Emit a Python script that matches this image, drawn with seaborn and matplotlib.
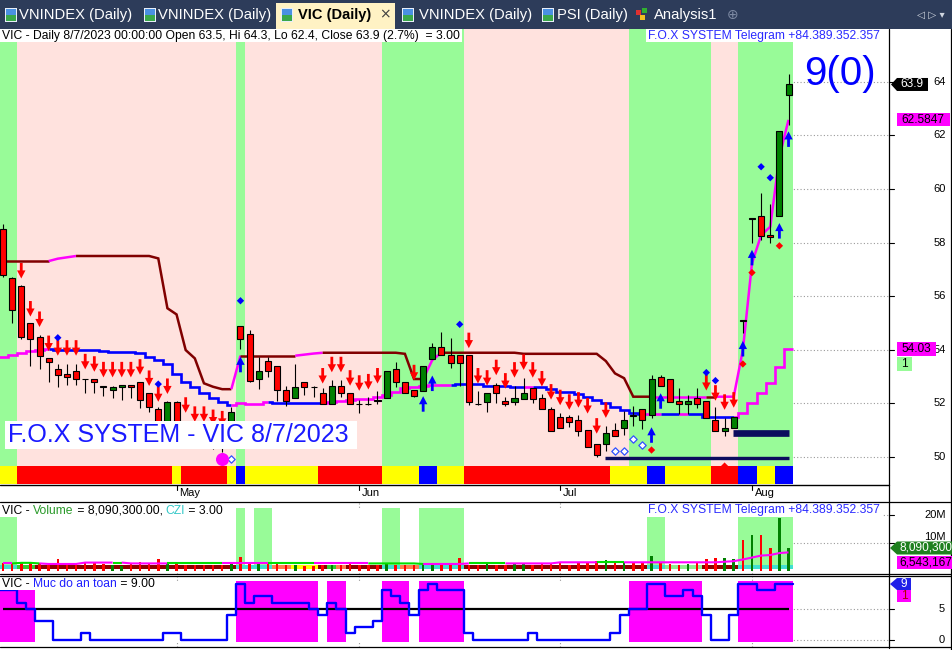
import numpy as np
import matplotlib
matplotlib.use("Agg")
import matplotlib.pyplot as plt
import seaborn as sns
from matplotlib.path import Path
from matplotlib.patches import Rectangle, Polygon
from matplotlib.lines import Line2D

# ---------------- data ----------------
opens = [58.51, 56.67, 56.38, 54.99, 54.47, 53.68, 53.27, 53.10, 53.21, 52.92,
         52.90, 52.63, 52.49, 52.60, 52.69, 52.79, 52.38, 51.79, 51.20, 52.06,
         51.20, 50.90, 50.80, 50.60, 50.50, 50.60, 54.89, 54.58, 52.90, 53.58,
         53.40, 52.49, 52.19, 52.79, 52.62, 52.38, 51.97, 52.66, 52.38, 51.98,
         51.98, 52.11, 52.19, 53.27, 52.79, 52.50, 52.47, 53.67, 54.09, 53.79,
         53.79, 53.79, 51.98, 52.06, 52.68, 52.09, 52.06, 52.16, 52.59, 52.19,
         51.78, 51.48, 51.48, 51.38, 51.00, 50.49, 50.47, 51.00, 51.07, 51.55,
         51.78, 51.57, 52.97, 52.90, 52.09, 51.97, 52.19, 52.09, 51.38, 50.98,
         51.07, 55.10, 58.88, 58.99, 58.28, 58.99, 63.50]
highs = [58.70, 56.70, 56.40, 55.00, 54.55, 53.69, 53.47, 53.47, 53.47, 52.92,
         52.92, 52.63, 52.66, 52.69, 52.69, 52.80, 52.40, 51.85, 52.10, 52.10,
         51.30, 51.10, 51.00, 50.90, 50.70, 51.88, 54.90, 54.74, 53.74, 53.74,
         53.40, 52.65, 53.47, 52.79, 52.65, 52.57, 52.87, 52.87, 52.38, 52.13,
         52.25, 52.47, 53.21, 53.56, 52.79, 52.50, 53.40, 54.24, 54.65, 54.43,
         53.79, 53.79, 52.46, 52.38, 52.75, 52.23, 52.65, 52.94, 52.59, 52.35,
         51.85, 51.63, 51.57, 51.57, 51.00, 50.49, 51.16, 51.26, 51.73, 51.90,
         51.78, 53.06, 53.06, 52.90, 52.56, 52.31, 52.56, 52.09, 51.85, 51.44,
         51.50, 55.10, 58.90, 59.84, 59.44, 62.18, 64.30]
lows = [56.70, 55.01, 54.40, 53.41, 53.28, 52.81, 52.62, 52.69, 52.69, 52.40,
        52.40, 52.29, 52.21, 52.12, 52.21, 51.82, 51.67, 51.00, 51.10, 51.00,
        50.70, 50.50, 50.40, 50.30, 50.20, 50.50, 54.02, 52.80, 52.53, 52.99,
        52.08, 51.90, 52.19, 52.31, 52.25, 51.97, 51.97, 52.25, 51.97, 51.63,
        51.94, 51.97, 52.19, 52.62, 52.38, 52.25, 52.47, 53.67, 53.79, 53.31,
        52.65, 51.94, 51.94, 51.69, 52.00, 51.90, 51.94, 52.16, 52.00, 51.78,
        50.98, 51.07, 51.11, 50.80, 50.38, 50.01, 50.22, 50.78, 50.82, 51.16,
        51.03, 51.44, 52.66, 52.06, 51.60, 51.60, 51.82, 51.47, 50.98, 50.78,
        51.07, 54.62, 58.00, 58.10, 58.00, 58.99, 62.40]
closes = [56.79, 55.49, 54.47, 54.40, 53.78, 53.56, 53.07, 52.97, 52.90, 52.90,
          52.79, 52.62, 52.60, 52.69, 52.60, 52.13, 51.88, 51.30, 52.06, 51.20,
          50.90, 50.70, 50.60, 50.50, 50.40, 51.67, 54.39, 52.84, 53.21, 53.21,
          52.49, 52.09, 52.60, 52.60, 52.60, 51.97, 52.66, 52.38, 51.97, 51.97,
          51.97, 52.10, 53.21, 52.80, 52.38, 52.29, 53.40, 54.09, 53.79, 53.50,
          53.50, 52.06, 51.97, 52.38, 52.38, 51.97, 52.19, 52.38, 52.16, 51.78,
          50.98, 51.07, 51.29, 50.98, 50.38, 50.07, 50.88, 50.78, 51.38, 51.53,
          51.38, 52.90, 52.66, 52.06, 51.97, 52.09, 51.97, 51.47, 50.98, 51.07,
          51.48, 55.08, 58.90, 58.26, 58.20, 62.18, 63.90]
volumes_m = [2.6, 2.6, 2.8, 2.8, 2.6, 2.0, 4.2, 2.4, 2.4, 2.6,
             2.6, 2.4, 2.0, 1.8, 2.6, 3.2, 2.8, 4.2, 2.9, 2.4,
             2.0, 2.0, 2.0, 2.0, 2.2, 2.6, 4.9, 3.2, 2.8, 2.4,
             2.4, 2.0, 2.0, 1.8, 1.8, 2.2, 2.2, 2.2, 3.2, 2.2,
             2.0, 2.2, 2.9, 2.2, 2.0, 2.0, 2.6, 2.6, 2.6, 2.6,
             4.5, 2.2, 2.0, 2.4, 2.0, 2.0, 2.4, 2.9, 2.2, 2.4,
             2.6, 2.6, 2.0, 2.8, 3.2, 3.4, 3.8, 2.8, 3.2, 2.9,
             3.2, 5.4, 2.6, 2.4, 2.0, 2.4, 2.6, 4.0, 4.4, 4.4,
             4.0, 11.0, 12.8, 12.8, 8.0, 18.7, 8.09]
vol_ma_m = [2.6, 2.6, 2.8, 2.8, 2.6, 2.4, 2.4, 2.4, 2.4, 2.9,
            2.9, 2.9, 2.9, 2.9, 2.6, 2.6, 2.6, 2.6, 2.6, 2.6,
            2.6, 2.6, 2.6, 2.6, 2.6, 2.6, 2.6, 2.6, 2.6, 2.6,
            2.6, 2.6, 2.6, 2.6, 2.6, 2.6, 2.6, 2.6, 2.6, 2.6,
            2.6, 2.6, 2.6, 2.6, 2.6, 2.6, 2.4, 2.4, 2.4, 2.4,
            2.4, 2.6, 2.6, 2.6, 2.6, 2.6, 2.6, 2.6, 2.6, 2.6,
            2.6, 3.0, 3.0, 3.0, 3.0, 3.0, 3.0, 3.0, 3.0, 3.0,
            3.0, 3.0, 3.0, 3.0, 3.0, 3.0, 3.0, 3.0, 3.0, 3.2,
            3.4, 4.0, 4.7, 5.4, 5.6, 6.3, 6.54]
upper_stop = [57.31, 57.31, 57.31, 57.31, 57.31, 57.31, 57.40, 57.45, 57.50, 57.50,
              57.50, 57.50, 57.50, 57.50, 57.50, 57.50, 57.50, 57.41, 55.55, 55.32,
              53.99, 53.68, 52.75, 52.62, 52.53, 52.53, 53.78, 53.78, 53.78, 53.78,
              53.78, 53.78, 53.78, 53.82, 53.86, 53.89, 53.89, 53.89, 53.89, 53.89,
              53.89, 53.89, 53.89, 53.89, 53.85, 52.91, 52.91, 53.62, 53.89, 53.89,
              53.89, 53.89, 53.89, 53.89, 53.89, 53.89, 53.89, 53.85, 53.85, 53.85,
              53.85, 53.85, 53.85, 53.85, 53.85, 53.85, 53.58, 53.12, 52.94, 52.25,
              52.25, 52.25, 52.25, 52.25, 52.25, 52.25, 52.25, 52.25, 52.25, 52.25,
              52.25, 53.99, 57.23, 58.28, 58.59, 61.20, 62.58]
lower_stop = [53.74, 53.81, 53.89, 53.96, 53.99, 54.02, 53.99, 53.99, 53.99, 53.99,
              53.99, 53.96, 53.93, 53.93, 53.93, 53.87, 53.74, 53.62, 53.47, 53.10,
              52.81, 52.62, 52.38, 52.19, 52.06, 51.94, 52.00, 51.98, 51.98, 52.04,
              52.00, 52.00, 52.00, 52.00, 52.00, 52.00, 52.06, 52.08, 52.13, 52.15,
              52.18, 52.25, 52.31, 52.44, 52.56, 52.60, 52.65, 52.68, 52.69, 52.69,
              52.71, 52.71, 52.71, 52.65, 52.65, 52.65, 52.62, 52.62, 52.63, 52.62,
              52.54, 52.44, 52.44, 52.35, 52.25, 52.13, 52.03, 51.85, 51.75, 51.65,
              51.60, 51.60, 51.61, 51.61, 51.61, 51.62, 51.61, 51.48, 51.48, 51.48,
              51.48, 51.63, 52.03, 52.40, 52.77, 53.37, 54.03]
safety = [8, 8, 6, 5, 3, 3, 0, 0, 0, 1,
          0, 0, 0, 0, 0, 0, 0, 0, 1, 1,
          0, 0, 0, 0, 0, 4, 9, 6, 7, 7,
          6, 6, 6, 6, 5, 4, 6, 5, 1, 2,
          2, 3, 8, 7, 6, 4, 8, 9, 8, 8,
          8, 1, 0, 0, 0, 0, 0, 0, 1, 0,
          0, 0, 0, 0, 0, 0, 0, 1, 4, 5,
          5, 9, 9, 7, 7, 8, 7, 4, 0, 0,
          4, 9, 9, 8, 8, 9, 9]

month_labels = ["May", "Jun", "Jul", "Aug"]
month_bars = [19, 39, 61, 82]
price_ticks = [50, 52, 54, 56, 58, 60, 62, 64]
vol_ticks = [10, 20]
vol_tick_labels = ["10M", "20M"]
safety_ticks = [0, 5]

# background trend bands (1 = green, 0 = pink), run lengths
bg_runs = [(1, 2), (0, 24), (1, 1), (0, 15), (1, 9), (0, 18), (1, 9), (0, 3), (1, 6)]
# bottom colour strip (0 red, 1 yellow, 2 blue)
strip_runs = [(1, 2), (0, 17), (1, 1), (0, 5), (1, 1), (2, 1), (1, 8), (0, 7), (1, 4), (2, 2),
              (1, 3), (0, 16), (1, 4), (2, 2), (1, 5), (0, 3), (2, 2), (1, 2), (2, 2)]
vol_bg_runs = [(1, 2), (0, 24), (1, 1), (0, 1), (1, 2), (0, 12), (1, 2), (0, 2), (1, 5),
               (0, 20), (1, 2), (0, 8), (1, 6)]
czi_runs = [('c', 2), ('g', 2), ('d', 22), ('c', 4), ('o', 2), ('y', 3), ('d', 1), ('g', 1),
            ('o', 1), ('d', 4), ('c', 2), ('o', 2), ('c', 5), ('d', 20), ('c', 2), ('l', 4),
            ('d', 4), ('c', 6)]
upper_flag_runs = [(0, 6), (1, 3), (0, 17), (1, 1), (0, 6), (1, 3), (0, 11), (1, 2), (0, 23),
                   (1, 6), (0, 1), (1, 8)]
lower_flag_runs = [(1, 6), (0, 20), (1, 4), (0, 6), (1, 14), (0, 8), (1, 1), (0, 12), (1, 2),
                   (0, 2), (1, 1), (0, 5), (1, 6)]
volma_flag_runs = [(1, 2), (0, 3), (1, 8), (0, 1), (1, 5), (0, 6), (1, 5), (0, 5), (1, 6),
                   (0, 6), (1, 5), (0, 4), (1, 10), (0, 3), (1, 18)]

red_arrow_bars = [2, 3, 4, 5, 6, 7, 8, 9, 10, 11, 12, 13, 14, 15, 16, 17, 18, 20, 21, 22, 23, 24,
                  35, 36, 37, 38, 39, 40, 41, 45, 51, 52, 53, 54, 55, 56, 57, 58, 59, 60, 61,
                  62, 63, 64, 65, 66, 77, 78, 79, 80]
red_arrow_prices = [56.95, 55.53, 55.14, 54.24, 54.07, 54.07, 54.07, 53.56, 53.47, 53.26,
                    53.26, 53.26, 53.26, 53.36, 52.94, 52.35, 52.64, 51.94, 51.60, 51.60,
                    51.48, 51.43, 53.03, 53.45, 53.45, 52.95, 52.76, 52.81, 53.03, 53.15,
                    54.35, 53.03, 52.95, 53.34, 52.84, 53.25, 53.54, 53.25, 52.92, 52.43,
                    52.22, 52.05, 52.13, 51.91, 51.16, 51.75, 52.77, 52.39, 52.05, 52.13]
blue_up_bars = [26, 46, 47, 71, 72, 81, 82, 85, 86]
blue_up_prices = [53.45, 51.98, 52.75, 50.82, 52.09, 54.04, 57.44, 58.44, 61.86]
blue_dia_bars = [6, 17, 26, 50, 77, 78, 83, 84]
blue_dia_prices = [54.45, 52.72, 55.83, 54.95, 53.15, 52.85, 60.83, 60.42]
red_dia_bars = [71, 79, 81, 82, 85]
red_dia_prices = [50.26, 49.66, 53.47, 56.88, 57.88]
hollow_bars = [25, 67, 68, 69, 70]
hollow_prices = [49.93, 50.24, 50.24, 50.66, 50.45]
circle_bars = [24]
circle_prices = [49.93]
navy_starts = [65.9, 79.9]
navy_ends = [86.1, 86.1]
navy_levels = [49.98, 50.88]

tab_names = ["VNINDEX (Daily)", "VNINDEX (Daily)", "VIC (Daily)", "VNINDEX (Daily)",
             "PSI (Daily)", "Analysis1"]
title_main = "VIC - Daily 8/7/2023 00:00:00 Open 63.5, Hi 64.3, Lo 62.4, Close 63.9 (2.7%)  = 3.00"
telegram = "F.O.X SYSTEM Telegram +84.389.352.357"
banner = "F.O.X SYSTEM - VIC 8/7/2023"
big_label = "9(0)"

# ---------------- setup ----------------
sns.set_theme(style="white")
plt.rcParams['font.family'] = ['Liberation Sans', 'DejaVu Sans']

W, H = 952, 650
fig = plt.figure(figsize=(W / 100, H / 100), dpi=100)
fig.patch.set_facecolor('white')
renderer = fig.canvas.get_renderer()

XL = (-0.328, 97.0)
n = len(closes)
xs = np.arange(n)


def expand(runs):
    out = []
    for v, k in runs:
        out += [v] * k
    return out


def axes_px(x0, y0, x1, y1):
    a = fig.add_axes([x0 / W, 1 - y1 / H, (x1 - x0) / W, (y1 - y0) / H])
    a.set_facecolor('white')
    for s in a.spines.values():
        s.set_visible(False)
    a.set_xticks([])
    a.set_yticks([])
    a.set_xlim(XL)
    return a


def fline(x0, y0, x1, y1, color='black', lw=0.9, z=20, ls='-'):
    fig.add_artist(Line2D([x0 / W, x1 / W], [1 - y0 / H, 1 - y1 / H], transform=fig.transFigure,
                          color=color, lw=lw, zorder=z, ls=ls))


def frect(x0, y0, x1, y1, color, z=15):
    fig.add_artist(Rectangle((x0 / W, 1 - y1 / H), (x1 - x0) / W, (y1 - y0) / H,
                             transform=fig.transFigure, facecolor=color, edgecolor='none',
                             lw=0, zorder=z))


def fpoly(pts, color, z=15):
    fig.add_artist(Polygon([(x / W, 1 - y / H) for x, y in pts], closed=True,
                           transform=fig.transFigure, facecolor=color, edgecolor='none', zorder=z))


def ftext(x, y, s, size, color='black', ha='left', va='center', weight='normal', z=25, family=None):
    kw = {}
    if family:
        kw['family'] = family
    return fig.text(x / W, 1 - y / H, s, fontsize=size, color=color, ha=ha, va=va,
                    fontweight=weight, zorder=z, **kw)


def twidth(s, size):
    t1 = fig.text(0, 0, s + '|', fontsize=size)
    t2 = fig.text(0, 0, '|', fontsize=size)
    w = t1.get_window_extent(renderer).width - t2.get_window_extent(renderer).width
    t1.remove()
    t2.remove()
    return w


def pieces(x, y, parts, size):
    for s, col in parts:
        ftext(x, y, s, size, color=col)
        x += twidth(s, size)
    return x


def draw_runs(a, runs, colors, y0, y1, z):
    pos = 0
    for code, k in runs:
        a.add_patch(Rectangle((pos - 0.5, y0), k, y1 - y0, facecolor=colors[code],
                              edgecolor='none', lw=0, zorder=z))
        pos += k


def colored_line(a, x, y, flags, cmap, lw, steps=False, z=3):
    m = len(x)
    i = 1
    while i < m:
        j = i
        while j + 1 < m and flags[j + 1] == flags[i]:
            j += 1
        a.plot(x[i - 1:j + 1], y[i - 1:j + 1], color=cmap[flags[i]], lw=lw,
               drawstyle='steps-mid' if steps else 'default', solid_capstyle='butt',
               solid_joinstyle='miter', zorder=z)
        i = j + 1


# ---------------- main price panel ----------------
PY0, PY1 = 48.955, 65.97
ax = axes_px(0, 29, 889, 485)
ax.set_ylim(PY0, PY1)
for v in price_ticks:
    ax.axhline(v, color='#9a9a9a', lw=0.8, ls=(0, (1, 2)), zorder=0)
draw_runs(ax, bg_runs, {0: '#ffe2de', 1: '#98fb98'}, 49.664, PY1, 1)
draw_runs(ax, strip_runs, {0: '#ff0000', 1: '#ffff00', 2: '#0000ff'}, 48.993, 49.664, 1)

# stop lines
colored_line(ax, list(xs), upper_stop, expand(upper_flag_runs), {0: '#800000', 1: '#ff00ff'}, 1.8, z=3)
lx = [-0.5] + list(xs) + [86.5]
ly = [lower_stop[0]] + lower_stop + [lower_stop[-1]]
lf = expand(lower_flag_runs)
lf = [lf[0]] + lf + [lf[-1]]
colored_line(ax, lx, ly, lf, {0: '#0000ff', 1: '#ff00ff'}, 1.9, steps=True, z=3)

for s0, s1, lv, wpx in zip(navy_starts, navy_ends, navy_levels, [3.4, 6.7]):
    ax.hlines(lv, s0, s1, color='#0c0c5e', lw=wpx * 0.72, zorder=3)

# candles
o = np.array(opens)
c = np.array(closes)
up = c > o
body_b = np.minimum(o, c)
body_h = np.maximum(np.abs(c - o), 0.012)
ax.vlines(xs, lows, highs, color='black', lw=0.8, zorder=4)
ax.bar(xs, body_h, bottom=body_b, width=0.66, color=np.where(up, '#008000', '#ff0000'),
       edgecolor='black', linewidth=0.8, zorder=5)

# signal markers
down_arrow = Path([(-0.09, 0.5), (0.09, 0.5), (0.09, 0.02), (0.27, 0.02), (0.0, -0.5),
                   (-0.27, 0.02), (-0.09, 0.02), (-0.09, 0.5)], closed=True)
up_arrow = Path([(x_, -y_) for x_, y_ in down_arrow.vertices], closed=True)
sns.scatterplot(x=red_arrow_bars, y=red_arrow_prices, marker=down_arrow, s=125, color='#ff0000',
                edgecolor='none', linewidth=0, ax=ax, zorder=6, legend=False)
sns.scatterplot(x=blue_up_bars, y=blue_up_prices, marker=up_arrow, s=125, color='#0000ff',
                edgecolor='none', linewidth=0, ax=ax, zorder=6, legend=False)
sns.scatterplot(x=blue_dia_bars, y=blue_dia_prices, marker='D', s=14, color='#0000ff',
                edgecolor='none', linewidth=0, ax=ax, zorder=6, legend=False)
sns.scatterplot(x=red_dia_bars, y=red_dia_prices, marker='D', s=14, color='#ff0000',
                edgecolor='none', linewidth=0, ax=ax, zorder=6, legend=False)
ax.scatter(hollow_bars, hollow_prices, marker='D', s=14, facecolors='white',
           edgecolors='#3050ff', linewidths=0.9, zorder=6)
ax.scatter(circle_bars, circle_prices, marker='o', s=70, color='#ff00ff', zorder=6)

# ---------------- volume panel ----------------
VY0, VY1 = -1.18, 24.64
axv = axes_px(0, 501.7, 889, 574)
axv.set_ylim(VY0, VY1)
for v in vol_ticks:
    axv.axhline(v, color='#9a9a9a', lw=0.8, ls=(0, (1, 2)), zorder=0)
for mb in month_bars:
    axv.axvline(mb, color='#9a9a9a', lw=0.8, ls=(0, (1, 2)), zorder=0)
draw_runs(axv, vol_bg_runs, {0: 'white', 1: '#98fb98'}, 0.6, 22.5, 1)
draw_runs(axv, czi_runs, {'c': '#40e0d0', 'g': '#32cd32', 'd': '#8b0000', 'o': '#ff7f50',
                          'y': '#ffff00', 'l': '#90ee90'}, 0.6, 2.04, 2)
axv.bar(xs, volumes_m, width=0.28, color=np.where(up, '#008000', '#ff0000'),
        edgecolor='none', linewidth=0, zorder=3)
colored_line(axv, list(xs), vol_ma_m, expand(volma_flag_runs), {0: '#00e000', 1: '#ff00ff'}, 1.5, z=4)

# ---------------- safety panel ----------------
SY0, SY1 = -1.256, 10.35
axs = axes_px(0, 575.7, 889, 647.3)
axs.set_ylim(SY0, SY1)
for v in safety_ticks:
    axs.axhline(v, color='#9a9a9a', lw=0.8, ls=(0, (1, 2)), zorder=0)
for mb in month_bars:
    axs.axvline(mb, color='#9a9a9a', lw=0.8, ls=(0, (1, 2)), zorder=0)
safe_flags = [1 if v >= 5 else 0 for v in safety]
srun = []
for f in safe_flags:
    if srun and srun[-1][0] == f:
        srun[-1][1] += 1
    else:
        srun.append([f, 1])
draw_runs(axs, srun, {0: 'white', 1: '#ff00ff'}, -0.35, 9.54, 1)
axs.hlines(5, 0, 86, color='black', lw=1.6, zorder=2)
sx = [-0.5] + list(xs) + [86.5]
sy = [safety[0]] + safety + [safety[-1]]
sns.lineplot(x=sx, y=sy, drawstyle='steps-mid', color='#0000ff', lw=1.7, ax=axs, zorder=3,
             estimator=None, sort=False)
axs.set_xlabel('')
axs.set_ylabel('')
axs.set_xticks([])
axs.set_yticks([])

# ---------------- frame lines ----------------
fline(0, 485, 889, 485, lw=1.0)
for yy in [501.7, 574, 575.7, 647.3]:
    fline(0, yy, W, yy, lw=0.9)
fline(889, 29, 889, 648, lw=0.9)
fline(950.5, 29, 950.5, 650, lw=0.9)

# month ticks / labels
for lab, mb in zip(month_labels, month_bars):
    xp = (mb - XL[0]) / (XL[1] - XL[0]) * 889
    fline(xp, 485, xp, 490, lw=0.8)
    ftext(xp + 3, 493, lab, 8)

# right axis ticks and labels
def py_main(p):
    return 29 + (PY1 - p) / (PY1 - PY0) * (485 - 29)


def py_vol(v):
    return 501.7 + (VY1 - v) / (VY1 - VY0) * (574 - 501.7)


def py_safe(v):
    return 575.7 + (SY1 - v) / (SY1 - SY0) * (647.3 - 575.7)


for v in price_ticks:
    yy = py_main(v)
    fline(889, yy, 894, yy, lw=0.8)
    ftext(945.5, yy, str(v), 8, ha='right')
for v, lab in zip(vol_ticks, vol_tick_labels):
    yy = py_vol(v)
    fline(889, yy, 894, yy, lw=0.8)
    # the 10M label sits mostly behind the volume tag, as in the reference
    ftext(946, yy - (6 if v == 10 else 0), lab, 8, ha='right')
for v in safety_ticks:
    yy = py_safe(v)
    fline(889, yy, 894, yy, lw=0.8)
    ftext(944.5, yy, str(v), 8, ha='right')

# value tags on the right
y = py_main(closes[-1])
fpoly([(891, y), (897, y - 6.5), (928, y - 6.5), (928, y + 6.5), (897, y + 6.5)], 'black', z=26)
ftext(900, y, f"{closes[-1]:.1f}", 8.6, color='white', z=27)
y = py_main(upper_stop[-1])
frect(897, y - 6.5, 950, y + 6.5, '#ff00ff', z=26)
ftext(901, y, "62.5847", 8.6, z=27)
y = py_main(lower_stop[-1])
frect(897, y - 7, 936, y + 7, '#ff00ff', z=26)
ftext(901, y, f"{lower_stop[-1]:.2f}", 8.6, z=27)
frect(897, y + 8, 912, y + 22, '#98fb98', z=26)
ftext(904.5, y + 15, "1", 8.6, ha='center', z=27)

# volume tags are stacked (as AmiBroker does)
y = 548.0
fpoly([(890, y), (897, y - 6.5), (952, y - 6.5), (952, y + 6.5), (897, y + 6.5)], '#1f801f', z=26)
ftext(899, y, "8,090,300", 8.6, color='white', z=27)
y = 562.5
frect(897, y - 6.5, 952, y + 6.5, '#ff00ff', z=26)
ftext(899, y, "6,543,167", 8.6, z=27)

y = py_safe(safety[-1])
fpoly([(890, y), (897, y - 6), (911, y - 6), (911, y + 6), (897, y + 6)], '#2020e8', z=26)
ftext(904, y, str(safety[-1]), 8.6, color='white', ha='center', z=27)
frect(897, y + 6, 911, y + 18, '#ff00ff', z=26)
ftext(904, y + 12, "1", 8.6, color='#b00000', ha='center', z=27)

# ---------------- panel titles ----------------
tw = twidth(title_main, 8.7)
frect(0, 29, 2 + tw + 2, 42, 'white', z=22)
ftext(2, 35.5, title_main, 8.7)
tw = twidth(telegram, 8.7)
frect(646, 29, 648 + tw + 2, 42, 'white', z=22)
ftext(648, 35.5, telegram, 8.7, color='#2a2aff')

xe = pieces(2, 510.5, [("VIC - ", 'black'), ("Volume", '#2a9a2a'), (" = 8,090,300.00, ", 'black'),
                       ("CZI", '#33c8c8'), (" = 3.00", 'black')], 8.7)
frect(0, 504, xe + 2, 517, 'white', z=22)
tw = twidth(telegram, 8.7)
frect(646, 504, 648 + tw + 2, 517, 'white', z=22)
ftext(648, 510.5, telegram, 8.7, color='#2a2aff')

xe = pieces(2, 584, [("VIC - ", 'black'), ("Muc do an toan", '#2020ff'), (" = 9.00", 'black')], 8.7)
frect(0, 578, xe + 2, 590, 'white', z=22)

# banner and big label
frect(5, 421, 357, 449, 'white', z=22)
ftext(8, 435.5, banner, 18.0, color='#1a1aff')
ftext(804, 74, big_label, 29, color='#0000ff')

# ---------------- tab bar ----------------
frect(0, 0, W, 28.5, '#2d3c5a', z=14)
frect(276, 3, 395, 29, '#fff2c4', z=15)
tab_x = [19, 158, 298, 419, 557, 654]
icon_x = [5, 144, 281, 402, 542]
for i, (tx, name) in enumerate(zip(tab_x, tab_names)):
    if i == 2:
        ftext(tx, 15.5, name, 10.5, color='black', weight='bold')
    else:
        ftext(tx, 15.5, name, 10.6, color='white')
for ix in icon_x:
    frect(ix, 8, ix + 12, 22, '#e8eef8', z=16)
    frect(ix + 1, 9, ix + 11, 15, '#4a90e2', z=17)
    frect(ix + 1, 15, ix + 11, 21, '#3aa84a', z=17)
frect(636, 10, 641, 15, '#e03030', z=16)
frect(642, 8, 647, 13, '#30b030', z=16)
frect(640, 15, 645, 20, '#f0c020', z=16)
ftext(385, 14.5, "\u00d7", 10, color='#404040', ha='center', family=['DejaVu Sans'])
ftext(733, 14.5, "\u2295", 10, color='#7d8aa3', ha='center', family=['DejaVu Sans'])
ftext(931, 14.5, "\u25c1 \u25b7 \u25be", 7.5, color='#d0d6e0', ha='center', family=['DejaVu Sans'])

fig.savefig("out.png", dpi=100, facecolor='white')
